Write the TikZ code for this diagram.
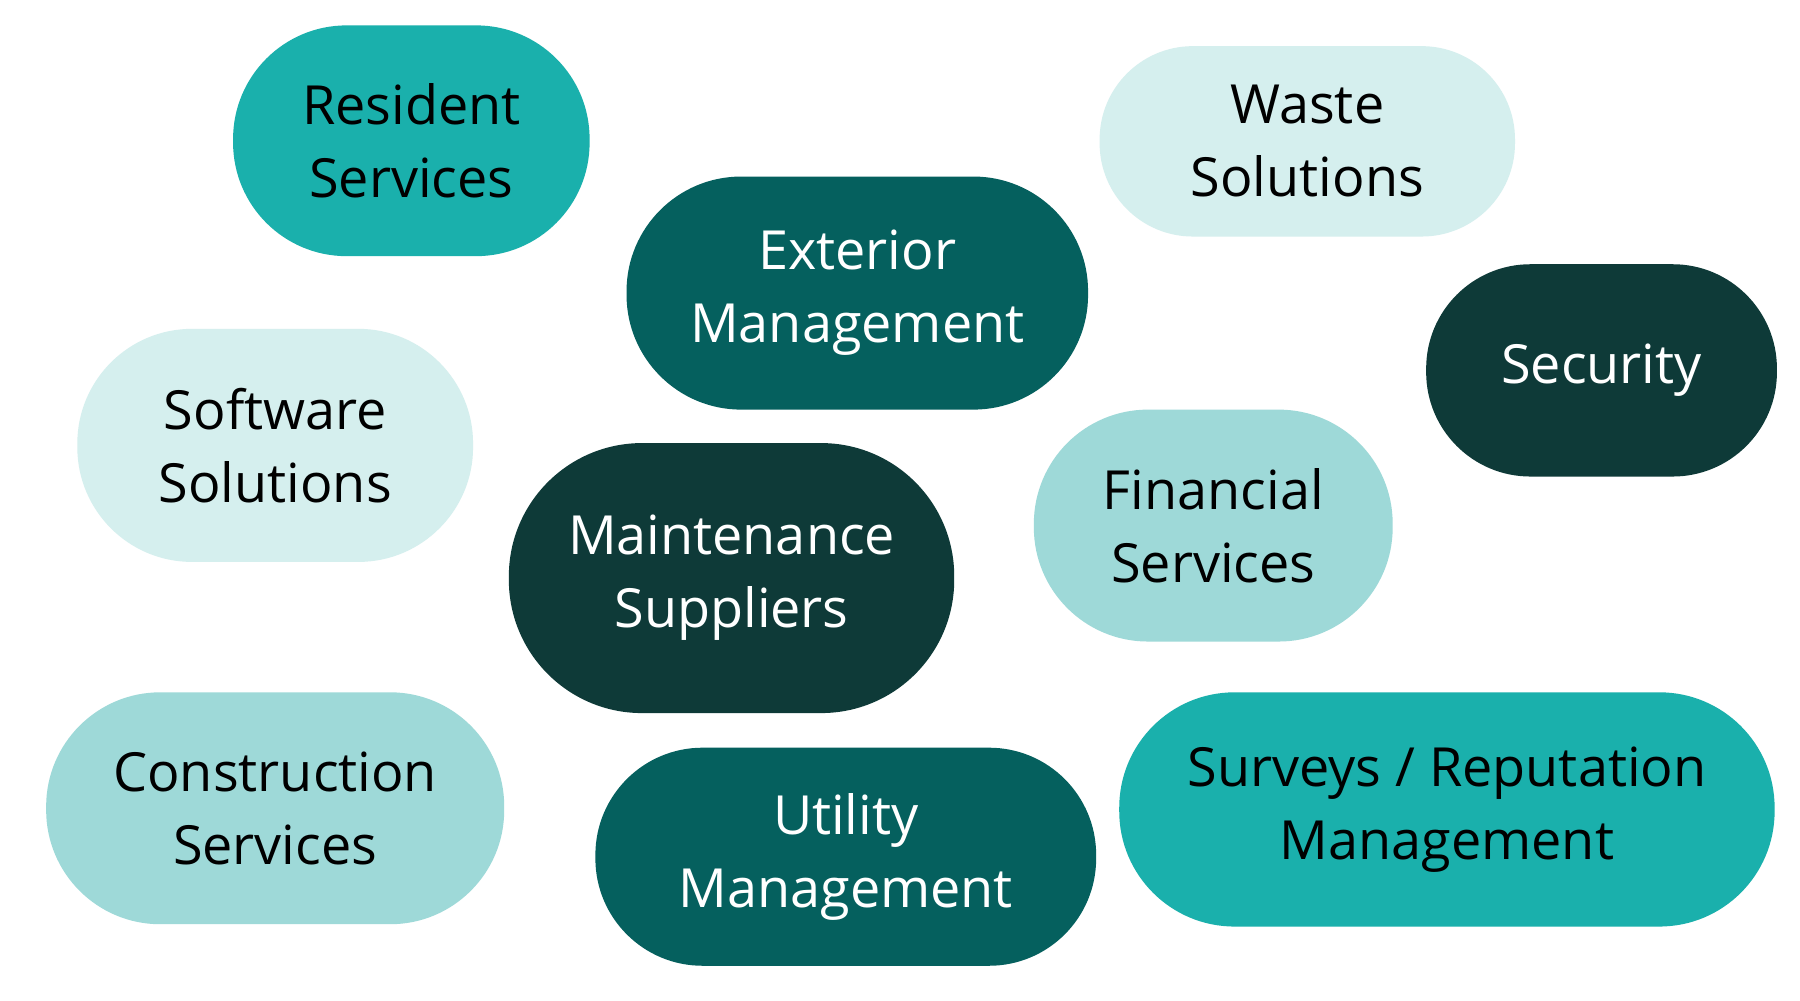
\documentclass[tikz,border=0pt]{standalone}
\usepackage{fontspec}
\setmainfont{Open Sans}
\definecolor{tealA}{HTML}{1AB0AC}
\definecolor{tealL}{HTML}{D5EFEE}
\definecolor{tealM}{HTML}{9ED9D8}
\definecolor{tealD}{HTML}{05605E}
\definecolor{tealX}{HTML}{0E3A38}
\tikzset{pill/.style n args={3}{rectangle,inner sep=0pt,minimum width=#1*0.01cm,minimum height=#2*0.01cm,rounded corners=#2*0.005cm-0.5pt,align=center,font=\fontsize{13.3}{18}\selectfont,fill=#3}}
\begin{document}
\begin{tikzpicture}[x=0.01cm,y=-0.01cm]
\useasboundingbox[fill=white] (0,0) rectangle (1560,867);
\node[pill={309}{200}{tealA}] (res) at (356.5,122) {Resident\\Services};
\node[pill={360}{165}{tealL}] (waste) at (1133,122.5) {Waste\\Solutions};
\node[pill={400}{202}{tealD},text=white] (ext) at (743,254) {Exterior\\Management};
\node[pill={304}{184}{tealX},text=white] (sec) at (1388,321) {Security};
\node[pill={343}{202}{tealL}] (soft) at (238.5,386) {Software\\Solutions};
\node[pill={311}{201}{tealM}] (fin) at (1051.5,455.5) {Financial\\Services};
\node[pill={386}{234}{tealX},text=white] (mnt) at (634,501) {Maintenance\\Suppliers};
\node[pill={397}{201}{tealM}] (con) at (238.5,700.5) {Construction\\Services};
\node[pill={434}{189}{tealD},text=white] (util) at (733,742.5) {Utility\\Management};
\node[pill={568}{203}{tealA}] (surv) at (1254,701.5) {Surveys / Reputation\\Management};
\end{tikzpicture}
\end{document}
